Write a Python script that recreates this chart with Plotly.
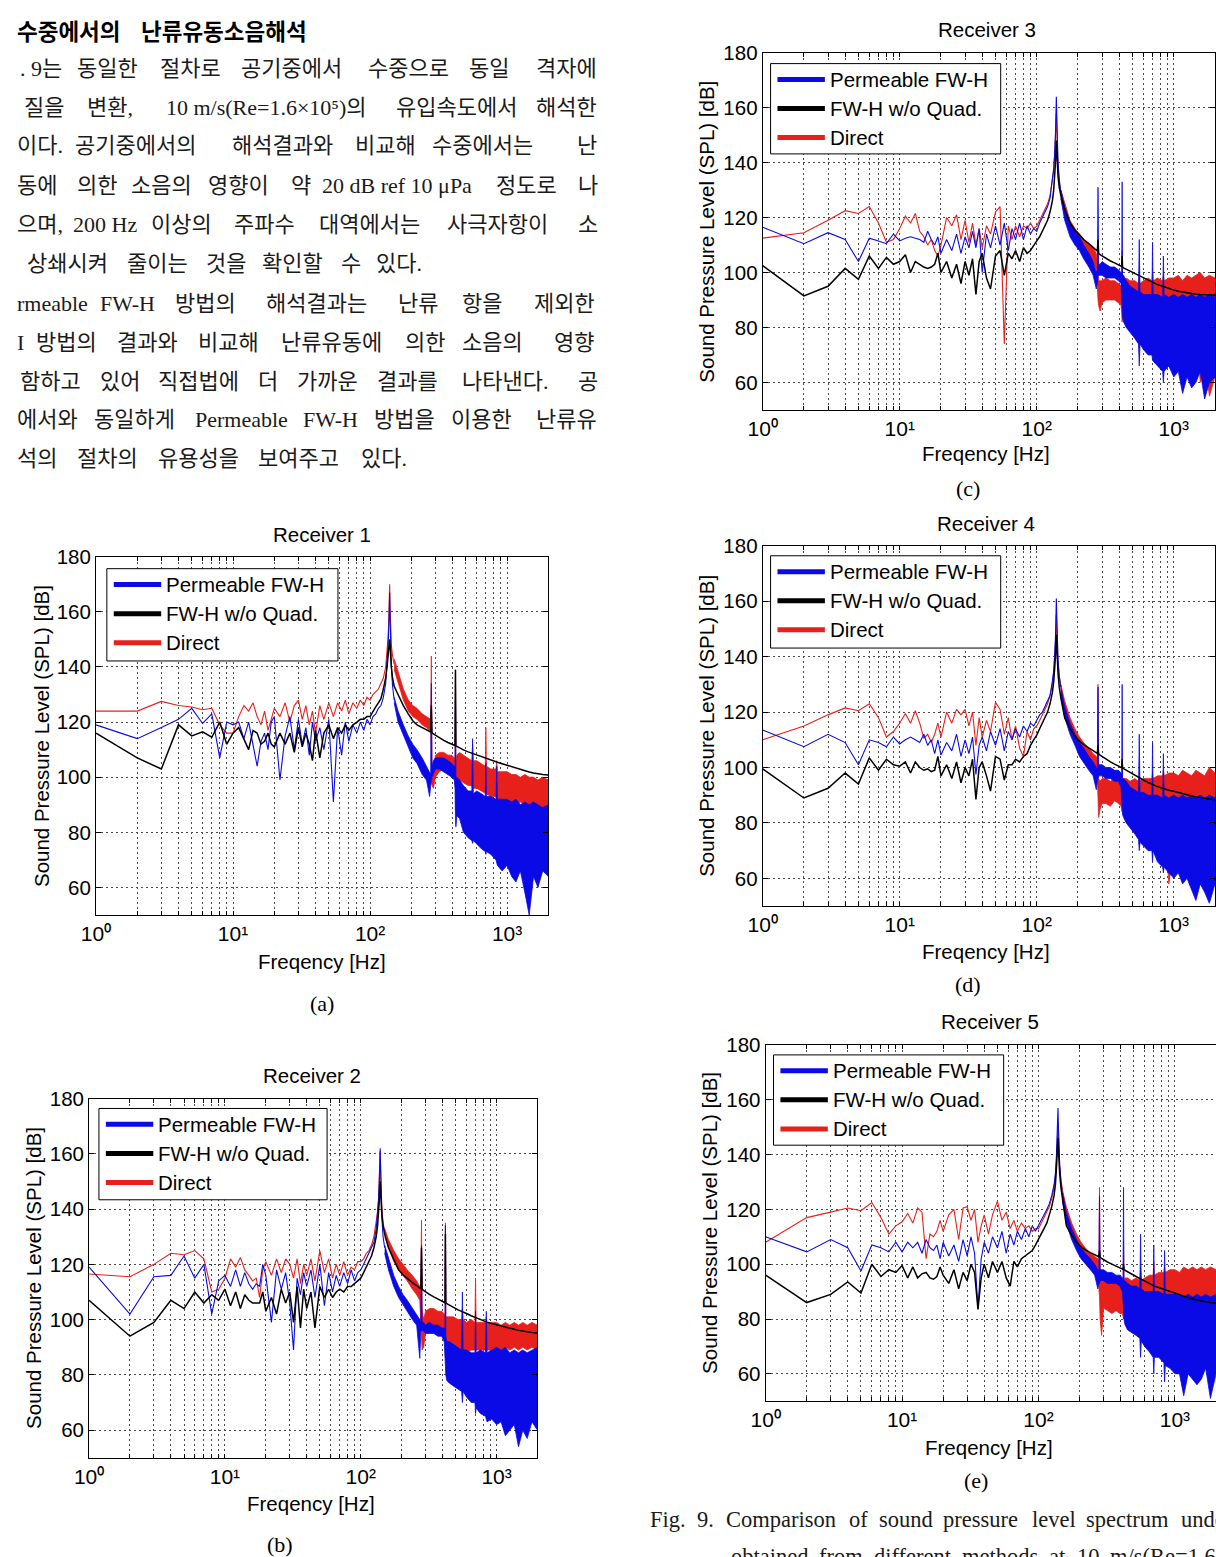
import plotly.graph_objects as go

W, H = 1216, 1557

# ---------------- frequency grids (Hz) ----------------
F_LOW = [1, 2, 3, 4, 5, 6, 7, 8, 9, 10,
         11, 12, 13, 14, 15, 16, 17, 18, 19, 20,
         22, 24, 26, 28, 30, 32, 34, 36, 38, 40,
         43, 46, 50, 54, 58, 62, 66, 70, 75, 80,
         85, 90, 95, 100, 105, 110, 115, 120, 125, 130,
         133, 135, 137, 139, 140, 141, 143, 146, 150]
BAND_F = [150, 160, 175, 190, 205, 220, 240, 258, 272, 277,
          280, 283, 290, 300, 320, 345, 370, 395, 412, 417,
          420, 423, 430, 450, 480, 520, 553, 560, 567, 600,
          650, 693, 700, 707, 760, 830, 840, 850, 920, 1000,
          1080, 1160, 1250, 1350, 1450, 1560, 1680, 1820, 2000]

# ---------------- Receiver 1 (a) ----------------
A_RED_LOW = [124, 124, 127.5, 126, 125.5, 124.5, 125, 119, 116, 116,
             122, 126, 124, 127, 122, 119, 124, 117, 121, 125,
             122, 127, 120, 126, 128, 121, 126, 119, 124, 116,
             126, 121, 127, 122, 127, 124, 128, 123, 127, 125,
             128, 126, 129, 128, 130, 131, 132, 134, 136, 140,
             145, 150, 157, 170, 162, 152, 148, 144, 141]
A_BLUE_LOW = [119, 114, 118, 121, 125, 119.5, 123, 107, 120, 119,
              120, 114, 120, 112, 104, 113, 116, 110, 120, 122,
              99, 115, 122, 110, 121, 112, 118, 108, 120, 113,
              118, 110, 121, 91, 118, 108, 120, 113, 119, 116,
              120, 117, 121, 119, 122, 123, 125, 126, 129, 134,
              141, 147, 154, 167, 158, 148, 140, 133, 128]
A_BLACK_LOW = [116, 107, 103, 119, 115, 116.5, 114.5, 120, 112, 116,
               118, 114, 110, 117, 116, 112, 113, 116, 112, 111,
               116, 112, 116, 109, 118, 111, 116, 112, 106, 117,
               107, 116, 119, 114, 118, 116, 119, 117, 119, 120,
               121, 121, 122, 122, 124, 125.5, 127, 128.5, 132, 136,
               140, 143, 147, 150, 148, 145, 140, 136, 133]
A_RED_HI = [143, 138, 132, 128, 126, 125, 123, 122, 121, 121,
            144, 104, 104, 108, 109, 109, 108, 108, 107, 106,
            139, 106, 108, 109, 108, 107, 106, 112, 106, 106,
            105, 104, 118, 104, 103, 103, 106, 102, 102, 102,
            101, 101, 100, 101, 100, 100, 99, 100, 99]
A_RED_LO = [139, 134, 128, 124, 122, 121, 119, 118, 117, 117,
            117, 97, 96, 100, 102, 103, 103, 102, 101, 100,
            97, 88, 96, 99, 98, 97, 97, 96, 96, 96,
            95, 94, 94, 94, 93, 93, 93, 92, 92, 91,
            91, 90, 91, 90, 90, 89, 90, 89, 90]
A_BLUE_HI = [129, 124, 119, 115, 112, 110, 107, 104, 102, 101,
             134, 104, 106, 107, 107, 107, 106, 105, 104, 104,
             132, 100, 100, 99, 97, 95, 95, 114, 94, 95,
             94, 93, 105, 93, 93, 92, 104, 92, 92, 92,
             91, 92, 90, 91, 90, 91, 90, 89, 90]
A_BLUE_LO = [127, 120, 115, 111, 107, 105, 101, 99, 93, 97,
             98, 100, 101, 103, 103, 102, 101, 100, 99, 96,
             85, 82, 86, 85, 80, 78, 77, 76, 77, 76,
             74, 73, 72, 73, 72, 70, 70, 68, 66, 68,
             64, 62, 66, 58, 50, 64, 60, 66, 64]
A_BLACK_BAND = [133, 130, 126, 123, 120.5, 119, 118, 117.3, 116.7, 116.4,
                126, 116.2, 115.7, 115.2, 114.3, 113.4, 112.6, 112, 111.6, 111.5,
                139, 111.4, 111.2, 110.6, 109.9, 109.2, 108.7, 108.6, 108.5, 108.1,
                107.5, 107, 106.9, 106.8, 106.2, 105.6, 105.5, 105.4, 104.9, 104.3,
                103.8, 103.3, 102.8, 102.3, 101.9, 101.5, 101.2, 101, 100.8]

# ---------------- Receiver 2 (b) ----------------
B_RED_LOW = [116.5, 115.5, 120, 124, 123.5, 125, 122, 110, 111, 115,
             122, 119, 122.5, 118, 116, 114, 115, 108, 118, 121,
             116, 122, 117, 122, 120, 115, 122, 113, 120, 116,
             122, 114, 125, 117, 122, 115, 120, 116, 121, 116,
             119, 118, 121, 121, 122, 124, 125, 127, 130, 135,
             139, 143, 150, 161, 155, 147, 140, 135, 132]
B_BLUE_LOW = [119, 102, 115.5, 116, 123, 115, 120, 102, 114, 116,
              112, 118, 112, 117, 113, 111, 113, 112, 120, 116,
              99, 118, 111, 117, 106, 89, 115, 109, 117, 112,
              118, 108, 120, 105, 117, 110, 116, 112, 117, 113,
              118, 114, 117, 118, 120, 122, 124, 126, 128, 133,
              138, 143, 150, 162, 155, 145, 137, 130, 126]
B_BLACK_LOW = [107, 94, 99, 107, 104, 110, 106, 109, 107, 111,
               105, 110, 104, 109, 107, 106, 106, 106, 110, 103,
               108, 102, 111, 106, 110, 99, 112, 97, 111, 104,
               110, 97, 112, 108, 111, 108, 110, 111, 110, 112,
               112, 113, 114, 115, 117, 119, 121, 123, 126, 130,
               134, 138, 143, 150, 147, 143, 138, 134, 131]
B_RED_HI = [133, 129, 125, 122, 120, 118, 116, 114, 112, 111,
            136, 104, 100, 103, 104, 104, 103, 103, 102, 101,
            135, 101, 101, 101, 101, 100, 100, 104, 100, 99,
            100, 99, 115, 99, 99, 99, 101, 99, 99, 99,
            98, 99, 98, 99, 98, 99, 98, 99, 98]
B_RED_LO = [130, 126, 121, 118, 116, 114, 111, 109, 107, 98,
            95, 89, 90, 95, 96, 96, 95, 95, 95, 94,
            86, 87, 88, 89, 88, 88, 88, 88, 88, 88,
            89, 89, 89, 89, 89, 89, 88, 89, 89, 90,
            89, 90, 89, 90, 89, 90, 89, 90, 89]
B_BLUE_HI = [127, 122, 116, 112, 109, 107, 104, 102, 100, 99,
             127, 99, 99, 98, 99, 98, 98, 97, 97, 96,
             134, 94, 92, 92, 91, 90, 89, 110, 89, 89,
             88, 88, 103, 88, 89, 88, 103, 88, 89, 90,
             89, 90, 88, 89, 88, 89, 88, 89, 90]
B_BLUE_LO = [124, 118, 112, 108, 105, 103, 100, 98, 86, 96,
             96, 96, 96, 95, 95, 95, 94, 94, 92, 90,
             84, 80, 78, 77, 76, 75, 74, 70, 74, 72,
             70, 70, 66, 68, 66, 65, 64, 63, 64, 62,
             63, 58, 60, 62, 54, 60, 57, 63, 60]
B_BLACK_BAND = [131, 126, 121.5, 118, 116.2, 114.8, 113.4, 112.3, 111.5, 111.2,
                126, 111, 110.6, 110, 109.1, 108.2, 107.4, 106.7, 106.2, 106.1,
                131, 106, 105.8, 105.2, 104.4, 103.5, 103, 102.9, 102.8, 102.2,
                101.4, 100.8, 100.7, 100.6, 100, 99.3, 99.2, 99.1, 98.6, 98.2,
                97.7, 97.3, 96.9, 96.5, 96.1, 95.8, 95.5, 95.3, 95.2]

# ---------------- Receiver 3 (c) ----------------
C_RED_LOW = [112.5, 114.5, 119, 122.5, 121.5, 124, 118, 111, 112, 116,
             120.5, 118, 121.5, 115, 113, 110, 112, 108, 106, 110,
             120, 117, 121, 112, 119, 111, 118, 110, 116, 109,
             117, 114, 122, 124, 74, 117, 112, 117, 113, 117,
             116, 118, 116, 117, 119, 121, 123, 125, 128, 133,
             137, 142, 148, 158, 152, 145, 139, 133, 129]
C_BLUE_LOW = [116.5, 110.5, 114.5, 112, 104, 112.5, 111.5, 110.5, 114, 111.5,
              112.5, 113, 112.5, 112, 111, 115, 112, 110, 113, 107,
              112, 108, 114, 107, 113, 109, 115, 109, 116, 100,
              114, 109, 117, 110, 118, 108, 116, 112, 118, 112,
              117, 114, 116, 115, 118, 120, 122, 124, 127, 133,
              138, 143, 150, 164, 155, 147, 140, 134, 129]
C_BLACK_LOW = [102.5, 91.5, 95, 101.5, 97.5, 106, 101.5, 105.5, 103, 104,
               106.5, 100, 104, 103, 102, 101.5, 102, 103, 107, 100,
               104, 98, 103, 96, 104, 99, 105, 92, 104, 107,
               98, 94, 106, 108, 99, 107, 105, 108, 104, 109,
               107, 108, 110, 111.5, 113, 115, 117, 119, 122, 126,
               130, 134, 140, 148, 145, 140, 135, 131, 128]
C_RED_HI = [130, 125, 119, 116, 114, 112, 110, 109, 107, 104,
            110, 97, 97, 97, 98, 97, 97, 96, 95, 94,
            108, 96, 97, 98, 97, 97, 96, 98, 96, 97,
            98, 97, 100, 97, 98, 97, 99, 97, 98, 98,
            99, 97, 99, 98, 99, 100, 98, 99, 98]
C_RED_LO = [127, 121, 115, 112, 110, 108, 106, 104, 101, 95,
            90, 88, 86, 89, 90, 90, 90, 89, 88, 85,
            82, 82, 86, 86, 85, 85, 84, 84, 84, 85,
            84, 84, 80, 85, 85, 84, 78, 85, 86, 85,
            84, 86, 85, 82, 86, 60, 70, 55, 62]
C_BLUE_HI = [130, 124, 118, 115, 113, 110, 107, 104, 100, 101,
             131, 103, 103, 104, 103, 102, 102, 101, 100, 99,
             133, 99, 99, 97, 95, 94, 93, 112, 93, 92,
             92, 92, 111, 92, 92, 91, 106, 92, 91, 92,
             91, 92, 91, 92, 91, 92, 91, 92, 91]
C_BLUE_LO = [127, 119, 113, 110, 108, 105, 102, 99, 94, 96,
             99, 99, 99, 99, 98, 98, 98, 97, 96, 94,
             88, 84, 82, 80, 78, 76, 74, 66, 74, 72,
             70, 70, 68, 68, 66, 64, 60, 64, 66, 62,
             64, 56, 62, 58, 60, 64, 54, 60, 62]
C_BLACK_BAND = [128, 123, 118, 115.5, 113.5, 112, 110.5, 109.3, 108.2, 107.8,
                112, 107, 106.5, 106, 105, 104.2, 103.5, 102.8, 102.3, 102.2,
                106, 102, 101.7, 101.2, 100.4, 99.6, 98.9, 98.8, 98.7, 98,
                97.2, 96.4, 96.3, 96.2, 95.6, 95, 94.9, 94.8, 94.2, 93.6,
                93.2, 92.9, 92.6, 92.3, 92.1, 92, 91.9, 91.8, 91.8]

# ---------------- Receiver 4 (d) ----------------
D_RED_LOW = [110, 115, 119, 121.5, 120.5, 123, 118, 111, 113, 116,
             119.5, 116, 120.5, 116, 110.5, 112, 109, 112, 116, 111,
             120, 116, 121, 119, 121, 115, 120, 108, 118, 111,
             117, 113, 123.5, 121, 112, 118, 110, 115, 107, 104,
             113, 110, 114, 115, 117, 119, 121, 123, 126, 130,
             134, 139, 145, 155, 150, 144, 138, 133, 129]
D_BLUE_LOW = [113.5, 107.5, 112, 109, 101, 110, 109, 107.5, 111, 108.5,
              110, 111, 110, 109, 112, 108, 110, 105, 110, 104.5,
              109, 106, 112, 104, 110, 105, 111, 97.5, 108, 111,
              106, 113, 108, 114, 106, 113, 110, 114, 111, 115,
              113, 116, 115, 117, 119, 120, 122, 124, 126, 131,
              135, 140, 147, 161, 153, 146, 139, 133, 129]
D_BLACK_LOW = [99.5, 89, 92.5, 98, 94, 103.5, 99, 103, 101, 100.5,
               102, 98, 102, 100, 99, 99.5, 98.5, 99, 104, 97,
               101, 96, 102, 94.5, 100, 97, 103, 88.5, 100, 102,
               97, 91.5, 104, 103, 95.5, 101, 101, 103, 102, 104,
               105, 108, 110, 111.7, 114, 116, 118, 120, 123, 127,
               131, 135, 140, 148, 144, 139, 134, 129, 125]
D_RED_HI = [130, 124, 118, 114, 111, 109, 107, 105, 104, 103,
            130, 96, 95, 96, 96, 95, 96, 95, 95, 94,
            101, 95, 96, 96, 95, 96, 95, 97, 95, 96,
            96, 96, 98, 96, 97, 97, 99, 97, 98, 98,
            97, 99, 98, 97, 99, 98, 97, 100, 98]
D_RED_LO = [127, 120, 114, 110, 107, 105, 103, 101, 99, 96,
            88, 82, 85, 87, 87, 86, 88, 87, 86, 85,
            84, 86, 86, 85, 84, 85, 84, 84, 84, 83,
            82, 84, 80, 84, 85, 84, 80, 85, 58, 70,
            85, 84, 80, 85, 64, 66, 84, 62, 86]
D_BLUE_HI = [129, 122, 116, 112, 109, 107, 104, 102, 100, 99,
             129, 101, 101, 101, 100, 100, 99, 99, 98, 97,
             130, 96, 96, 95, 93, 92, 91, 112, 91, 91,
             90, 90, 109, 90, 90, 89, 105, 90, 89, 90,
             89, 90, 89, 90, 89, 90, 89, 90, 89]
D_BLUE_LO = [126, 118, 112, 108, 104, 102, 99, 97, 92, 95,
             96, 97, 97, 97, 96, 96, 95, 95, 93, 91,
             86, 83, 82, 80, 78, 76, 74, 70, 73, 72,
             70, 70, 66, 70, 66, 64, 62, 64, 62, 60,
             62, 58, 60, 56, 52, 58, 55, 51, 58]
D_BLACK_BAND = [125, 118, 114, 111.5, 109.5, 108.3, 107, 106, 105.3, 105.1,
                108, 104.9, 104.5, 104, 103, 102, 101.2, 100.4, 100, 99.9,
                103, 99.8, 99.6, 99, 98.2, 97.2, 96.5, 96.3, 96.2, 95.5,
                94.6, 93.9, 93.8, 93.7, 93.1, 92.5, 92.4, 92.3, 91.8, 91.4,
                90.9, 90.5, 90.1, 89.7, 89.4, 89.1, 88.8, 88.6, 88.4]

# ---------------- Receiver 5 (e) ----------------
E_RED_LOW = [108, 117, 119, 120.5, 119.5, 122.5, 117, 111, 114, 115.5,
             118.5, 115, 120.5, 119, 102, 111, 110, 112, 116, 112,
             118, 120, 109, 120.5, 121, 116, 120, 108, 114, 118,
             111, 118, 123, 116, 119, 113, 116, 112, 115, 113,
             114, 112, 113, 113, 115, 117, 119, 121, 124, 128,
             132, 137, 143, 152, 148, 142, 136, 131, 127]
E_BLUE_LOW = [110, 104.5, 109, 106, 97.5, 107, 106, 104.5, 108, 104.5,
              108, 106, 108, 104, 109, 106, 105, 107, 102, 108,
              103, 107, 101, 109, 103, 110, 104, 84, 102, 108,
              104, 110, 106, 112, 104, 111, 107, 112, 109, 113,
              110, 114, 112, 114, 116, 118, 120, 122, 125, 129,
              133, 138, 145, 157, 150, 143, 136, 130, 125]
E_BLACK_LOW = [96, 86, 89, 93.5, 89.5, 100, 95.5, 98, 97, 99.5,
               95, 99, 95, 96.5, 97, 95, 94.5, 95.5, 99, 96,
               93, 98, 91, 97, 94, 100, 97, 83.5, 95, 100,
               95, 101, 97, 101, 95, 92, 101, 99, 102, 103,
               104, 105, 107, 109, 111, 113, 115, 118, 121, 125,
               129, 134, 139, 146, 142, 138, 133, 128, 124]
E_RED_HI = [127, 121, 115, 111, 108, 106, 104, 103, 102, 101,
            128, 96, 95, 95, 95, 95, 94, 94, 94, 93,
            108, 94, 95, 95, 94, 95, 94, 98, 94, 95,
            96, 96, 101, 96, 97, 97, 99, 97, 98, 98,
            97, 99, 98, 99, 98, 99, 98, 99, 98]
E_RED_LO = [124, 117, 111, 107, 104, 102, 100, 99, 97, 92,
            88, 80, 74, 84, 83, 82, 83, 82, 82, 81,
            80, 82, 82, 82, 82, 82, 82, 82, 83, 83,
            84, 84, 84, 85, 85, 86, 82, 86, 85, 86,
            86, 87, 86, 87, 86, 87, 87, 86, 86]
E_BLUE_HI = [126, 119, 113, 109, 106, 104, 102, 100, 98, 97,
             125, 98, 98, 98, 97, 97, 96, 96, 95, 94,
             128, 94, 94, 93, 92, 92, 91, 111, 91, 90,
             90, 90, 107, 90, 90, 89, 105, 89, 89, 89,
             89, 88, 89, 88, 89, 88, 89, 88, 89]
E_BLUE_LO = [123, 115, 109, 105, 102, 100, 98, 96, 91, 93,
             93, 94, 94, 94, 93, 93, 93, 92, 90, 88,
             84, 80, 78, 76, 75, 74, 73, 66, 72, 70,
             68, 66, 60, 66, 66, 64, 57, 63, 62, 60,
             60, 52, 60, 58, 56, 58, 62, 51, 60]
E_BLACK_BAND = [124, 114, 110.5, 108, 106.3, 105.2, 104.2, 103.5, 102.9, 102.7,
                105, 102.5, 102.1, 101.6, 100.8, 100, 99.3, 98.6, 98.2, 98.1,
                100, 98, 97.8, 97.2, 96.4, 95.5, 94.8, 94.6, 94.5, 93.8,
                92.9, 92.2, 92.1, 92, 91.5, 90.8, 90.7, 90.6, 90, 89.4,
                88.8, 88.3, 87.8, 87.3, 86.9, 86.6, 86.3, 86, 85.8]

DATA = {
    "A": (A_RED_LOW, A_RED_HI, A_RED_LO, A_BLUE_LOW, A_BLUE_HI, A_BLUE_LO, A_BLACK_LOW, A_BLACK_BAND),
    "B": (B_RED_LOW, B_RED_HI, B_RED_LO, B_BLUE_LOW, B_BLUE_HI, B_BLUE_LO, B_BLACK_LOW, B_BLACK_BAND),
    "C": (C_RED_LOW, C_RED_HI, C_RED_LO, C_BLUE_LOW, C_BLUE_HI, C_BLUE_LO, C_BLACK_LOW, C_BLACK_BAND),
    "D": (D_RED_LOW, D_RED_HI, D_RED_LO, D_BLUE_LOW, D_BLUE_HI, D_BLUE_LO, D_BLACK_LOW, D_BLACK_BAND),
    "E": (E_RED_LOW, E_RED_HI, E_RED_LO, E_BLUE_LOW, E_BLUE_HI, E_BLUE_LO, E_BLACK_LOW, E_BLACK_BAND),
}
for k, arrs in DATA.items():
    for i, a in enumerate(arrs):
        n = len(F_LOW) if i in (0, 3, 6) else len(BAND_F)
        assert len(a) == n, (k, i, len(a), n)

LEGEND_NAMES = ["Permeable FW-H", "FW-H w/o Quad.", "Direct"]
X_TICKS = [1, 2, 3, 4, 5, 6, 7, 8, 9, 10, 20, 30, 40, 50, 60, 70, 80, 90,
           100, 200, 300, 400, 500, 600, 700, 800, 900, 1000, 2000]
X_TICKTEXT = {1: "10⁰", 10: "10¹", 100: "10²", 1000: "10³"}
Y_TICKS = [60, 80, 100, 120, 140, 160, 180]

BLUE = "#0a0ae6"
RED = "#e8201c"
BLACK = "#000000"

SANS = "Liberation Sans, Arial, Helvetica, sans-serif"
SERIF = "Liberation Serif, Noto Sans CJK KR, serif"
KFONT = "Noto Sans CJK KR, sans-serif"


def fx(x):
    return x / W


def fy(y):
    return 1 - y / H


PANELS = [
    dict(key="A", rec="Receiver 1", sub="(a)", box=(82, 540, 549, 910),
         title=(311, 527), xlab=(311, 957), ylab=(27, 730), subxy=(311, 999),
         leg=(93, 327, 561, 654), mirror_y=True),
    dict(key="B", rec="Receiver 2", sub="(b)", box=(75, 529, 1095, 1457),
         title=(301, 1072), xlab=(300, 1503), ylab=(18, 1276), subxy=(268, 1544),
         leg=(85, 316, 1105, 1197), mirror_y=True),
    dict(key="C", rec="Receiver 3", sub="(c)", box=(757, 1215, 41, 401),
         title=(984, 18), xlab=(983, 445), ylab=(700, 221), subxy=(965, 480),
         leg=(765, 998, 52, 143), mirror_y=True),
    dict(key="D", rec="Receiver 4", sub="(d)", box=(757, 1215, 538, 901),
         title=(983, 515), xlab=(983, 947), ylab=(700, 719), subxy=(965, 980),
         leg=(765, 998, 548, 641), mirror_y=True),
    dict(key="E", rec="Receiver 5", sub="(e)", box=(760, 1216, 1041, 1400),
         title=(987, 1017), xlab=(986, 1447), ylab=(703, 1220), subxy=(973, 1480),
         leg=(768, 1001, 1051, 1142), mirror_y=False),
]
X_MAX_LOG = 3.301  # every panel spans 1 Hz .. 2 kHz

fig = go.Figure()
layout = dict(width=W, height=H, margin=dict(l=0, r=0, t=0, b=0), autosize=False,
              paper_bgcolor="white", plot_bgcolor="white", showlegend=False)
annotations = []
shapes = []


def ann(text, x, y, size, family, xanchor="center", yanchor="middle", angle=0, color="black"):
    annotations.append(dict(text=text, x=fx(x), y=fy(y), xref="paper", yref="paper",
                            showarrow=False, xanchor=xanchor, yanchor=yanchor,
                            textangle=angle, font=dict(family=family, size=size, color=color)))


for i, p in enumerate(PANELS):
    n = "" if i == 0 else str(i + 1)
    xa, ya = "x" + n, "y" + n
    left, right, top, bottom = p["box"]
    red_low, red_hi, red_lo, blue_low, blue_hi, blue_lo, black_low, black_band = DATA[p["key"]]

    common = dict(xaxis=xa, yaxis=ya, showlegend=False, hoverinfo="skip")
    band_x = BAND_F + BAND_F[::-1]
    # Direct (red)
    fig.add_trace(go.Scatter(x=F_LOW, y=red_low, mode="lines", line=dict(color=RED, width=1.1), **common))
    fig.add_trace(go.Scatter(x=band_x, y=red_hi + red_lo[::-1], mode="lines", fill="toself",
                             fillcolor=RED, line=dict(color=RED, width=0.8), **common))
    # Permeable FW-H (blue)
    fig.add_trace(go.Scatter(x=F_LOW, y=blue_low, mode="lines", line=dict(color=BLUE, width=1.1), **common))
    fig.add_trace(go.Scatter(x=band_x, y=blue_hi + blue_lo[::-1], mode="lines", fill="toself",
                             fillcolor=BLUE, line=dict(color=BLUE, width=0.8), **common))
    # FW-H w/o Quad. (black)
    fig.add_trace(go.Scatter(x=F_LOW[:-1] + BAND_F, y=black_low[:-1] + black_band, mode="lines",
                             line=dict(color=BLACK, width=1.5), **common))

    layout["xaxis" + n] = dict(
        type="log", range=[0, X_MAX_LOG], domain=[fx(left), fx(right)], anchor=ya,
        tickvals=X_TICKS, ticktext=[X_TICKTEXT.get(v, "") for v in X_TICKS],
        ticks="inside", ticklen=4, tickcolor="black", showline=True, linecolor="black",
        linewidth=1, mirror="ticks", showgrid=True, gridcolor="#4a4a4a", griddash="2px,3px",
        gridwidth=1, zeroline=False, tickfont=dict(family=SANS, size=21, color="black"),
        tickangle=0)
    layout["yaxis" + n] = dict(
        range=[50, 180], domain=[fy(bottom), fy(top)], anchor=xa,
        tickvals=Y_TICKS, ticks="inside", ticklen=5, tickcolor="black", showline=True,
        linecolor="black", linewidth=1, mirror="ticks" if p["mirror_y"] else False,
        showgrid=True, gridcolor="#4a4a4a", griddash="2px,3px", gridwidth=1, zeroline=False,
        tickfont=dict(family=SANS, size=20.5, color="black"))

    ann(p["rec"], p["title"][0], p["title"][1], 20.5, SANS)
    ann("Freqency [Hz]", p["xlab"][0], p["xlab"][1], 20.5, SANS)
    ann("Sound Pressure Level (SPL) [dB]", p["ylab"][0], p["ylab"][1], 20.5, SANS, angle=-90)
    ann(p["sub"], p["subxy"][0], p["subxy"][1], 22, SERIF)

    # legend box
    l0, l1, t0, t1 = p["leg"]
    shapes.append(dict(type="rect", xref="paper", yref="paper", x0=fx(l0), x1=fx(l1), y0=fy(t1), y1=fy(t0),
                       fillcolor="white", line=dict(color="black", width=1), layer="above"))
    for j, (name, col) in enumerate(zip(LEGEND_NAMES, [BLUE, BLACK, RED])):
        yy = t0 + 16 + j * 29.3
        shapes.append(dict(type="line", xref="paper", yref="paper", x0=fx(l0 + 7), x1=fx(l0 + 55),
                           y0=fy(yy), y1=fy(yy), line=dict(color=col, width=5), layer="above"))
        ann(name, l0 + 58, yy, 20.5, SANS, xanchor="left")

# ---------------- body text (Korean) ----------------
BODY_LINES = [
    (57, [(". 9는", 3), ("동일한", 61), ("절차로", 145), ("공기중에서", 227), ("수중으로", 355),
          ("동일", 458), ("격자에", 525)]),
    (96, [("질을", 7), ("변환,", 71), ("10 m/s(Re=1.6×10⁵)의", 151), ("유입속도에서", 384),
          ("해석한", 525)]),
    (135, [("이다.", 0), ("공기중에서의", 59), ("해석결과와", 218), ("비교해", 342), ("수중에서는", 420),
           ("난", 567)]),
    (175, [("동에", 0), ("의한", 61), ("소음의", 115), ("영향이", 193), ("약", 277),
           ("20 dB ref 10 μPa", 309), ("정도로", 485), ("나", 568)]),
    (214, [("으며,", 0), ("200 Hz", 57), ("이상의", 136), ("주파수", 220), ("대역에서는", 306),
           ("사극자항이", 435), ("소", 568)]),
    (253, [("상쇄시켜", 10), ("줄이는", 111), ("것을", 191), ("확인할", 248), ("수", 328), ("있다.", 363)]),
    (294, [("rmeable", 0), ("FW-H", 84), ("방법의", 160), ("해석결과는", 252), ("난류", 386),
           ("항을", 451), ("제외한", 523)]),
    (333, [("I", 0), ("방법의", 19), ("결과와", 101), ("비교해", 183), ("난류유동에", 267),
           ("의한", 393), ("소음의", 451), ("영향", 544)]),
    (372, [("함하고", 3), ("있어", 84), ("직접법에", 143), ("더", 244), ("가까운", 283),
           ("결과를", 365), ("나타낸다.", 451), ("공", 568)]),
    (411, [("에서와", 0), ("동일하게", 78), ("Permeable", 180), ("FW-H", 290), ("방법을", 361),
           ("이용한", 439), ("난류유", 525)]),
    (450, [("석의", 0), ("절차의", 61), ("유용성을", 143), ("보여주고", 244), ("있다.", 348)]),
]
ann("<b>수중에서의</b>", 0, 18, 22.5, KFONT, xanchor="left")
ann("<b>난류유동소음해석</b>", 126, 18, 22.5, KFONT, xanchor="left")
for yy, words in BODY_LINES:
    for w, x in words:
        ann(w, x, yy, 22, SERIF, xanchor="left", color="#1a1a1a")

# ---------------- caption ----------------
CAPTION_1 = [("Fig.", 641), ("9.", 688), ("Comparison", 718), ("of", 842), ("sound", 873),
             ("pressure", 938), ("level", 1028), ("spectrum", 1082), ("unde", 1179)]
CAPTION_2 = [("obtained", 723), ("from", 812), ("different", 868), ("methods", 957), ("at", 1045),
             ("10", 1073), ("m/s(Re=1.6×", 1107)]
for w, x in CAPTION_1:
    ann(w, x, 1519, 22.5, SERIF, xanchor="left", color="#1a1a1a")
for w, x in CAPTION_2:
    ann(w, x, 1556, 22.5, SERIF, xanchor="left", color="#1a1a1a")

layout["annotations"] = annotations
layout["shapes"] = shapes
fig.update_layout(**layout)
fig.write_html("out.html")
